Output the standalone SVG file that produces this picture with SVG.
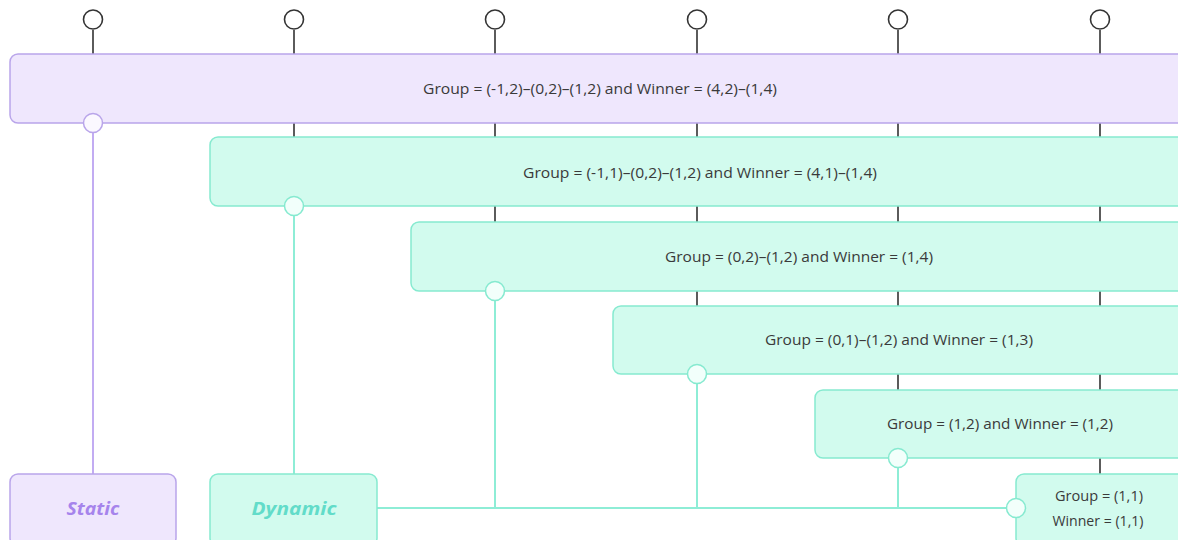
<svg xmlns="http://www.w3.org/2000/svg" width="1178" height="540" viewBox="0 0 1178 540">
<style>
.stem{stroke:#333;stroke-width:1.6;fill:none}
.top{fill:#fff;stroke:#333;stroke-width:1.6}
.pbox{fill:#efe7fd;stroke:#b9a5ea;stroke-width:1.5}
.gbox{fill:#d2fbee;stroke:#86ead0;stroke-width:1.5}
.pline{stroke:#c2acf2;stroke-width:2;fill:none}
.gline{stroke:#8eedd6;stroke-width:2;fill:none}
.pc{fill:#fbf8ff;stroke:#b9a5ea;stroke-width:1.5}
.gc{fill:#f2fffb;stroke:#86ead0;stroke-width:1.5}
.t{font-family:"Open Sans","Noto Sans",sans-serif;font-size:14.5px;fill:#3a3a3a;text-anchor:middle;dominant-baseline:central}
.lab{font-family:"Open Sans","Noto Sans",sans-serif;font-size:18px;font-weight:bold;font-style:italic;text-anchor:middle;dominant-baseline:central}
</style>
<g id="stems">
<line class="stem" x1="93" y1="30" x2="93" y2="54"/>
<line class="stem" x1="294" y1="30" x2="294" y2="137"/>
<line class="stem" x1="495" y1="30" x2="495" y2="222"/>
<line class="stem" x1="697" y1="30" x2="697" y2="306"/>
<line class="stem" x1="898" y1="30" x2="898" y2="390"/>
<line class="stem" x1="1100" y1="30" x2="1100" y2="474"/>
<circle class="top" cx="93" cy="19.5" r="9.5"/>
<circle class="top" cx="294" cy="19.5" r="9.5"/>
<circle class="top" cx="495" cy="19.5" r="9.5"/>
<circle class="top" cx="697" cy="19.5" r="9.5"/>
<circle class="top" cx="898" cy="19.5" r="9.5"/>
<circle class="top" cx="1100" cy="19.5" r="9.5"/>
</g>
<g id="connectors">
<line class="pline" x1="93" y1="123" x2="93" y2="474"/>
<line class="gline" x1="294" y1="206" x2="294" y2="474"/>
<line class="gline" x1="495" y1="291" x2="495" y2="508"/>
<line class="gline" x1="697" y1="374" x2="697" y2="508"/>
<line class="gline" x1="898" y1="458" x2="898" y2="508"/>
<line class="gline" x1="377" y1="508" x2="1016" y2="508"/>
</g>
<g id="n0">
<rect class="pbox" x="10" y="54" width="1175" height="69" rx="8"/>
<text class="t" x="600" y="88" textLength="354" lengthAdjust="spacingAndGlyphs">Group = (-1,2)–(0,2)–(1,2) and Winner = (4,2)–(1,4)</text>
<circle class="pc" cx="93" cy="123" r="9.5"/>
</g>
<g id="n1">
<rect class="gbox" x="210" y="137" width="975" height="69" rx="8"/>
<text class="t" x="700" y="172" textLength="354" lengthAdjust="spacingAndGlyphs">Group = (-1,1)–(0,2)–(1,2) and Winner = (4,1)–(1,4)</text>
<circle class="gc" cx="294" cy="206" r="9.5"/>
</g>
<g id="n2">
<rect class="gbox" x="411" y="222" width="774" height="69" rx="8"/>
<text class="t" x="799" y="256" textLength="268" lengthAdjust="spacingAndGlyphs">Group = (0,2)–(1,2) and Winner = (1,4)</text>
<circle class="gc" cx="495" cy="291" r="9.5"/>
</g>
<g id="n3">
<rect class="gbox" x="613" y="306" width="572" height="68" rx="8"/>
<text class="t" x="899" y="339" textLength="268" lengthAdjust="spacingAndGlyphs">Group = (0,1)–(1,2) and Winner = (1,3)</text>
<circle class="gc" cx="697" cy="374" r="9.5"/>
</g>
<g id="n4">
<rect class="gbox" x="815" y="390" width="370" height="68" rx="8"/>
<text class="t" x="1000" y="423" textLength="226" lengthAdjust="spacingAndGlyphs">Group = (1,2) and Winner = (1,2)</text>
<circle class="gc" cx="898" cy="458" r="9.5"/>
</g>
<g id="n5">
<rect class="gbox" x="1016" y="474" width="169" height="72" rx="8"/>
<text class="t" x="1099" y="495" textLength="88" lengthAdjust="spacingAndGlyphs">Group = (1,1)</text>
<text class="t" x="1098" y="520" textLength="91" lengthAdjust="spacingAndGlyphs">Winner = (1,1)</text>
<circle class="gc" cx="1016" cy="508" r="9.5"/>
</g>
<g id="static">
<rect class="pbox" x="10" y="474" width="166" height="72" rx="8"/>
<text class="lab" x="93" y="508" fill="#a684ec" textLength="53" lengthAdjust="spacingAndGlyphs">Static</text>
</g>
<g id="dynamic">
<rect class="gbox" x="210" y="474" width="167" height="72" rx="8"/>
<text class="lab" x="294" y="508" fill="#62dcc9" textLength="85" lengthAdjust="spacingAndGlyphs">Dynamic</text>
</g>
</svg>
